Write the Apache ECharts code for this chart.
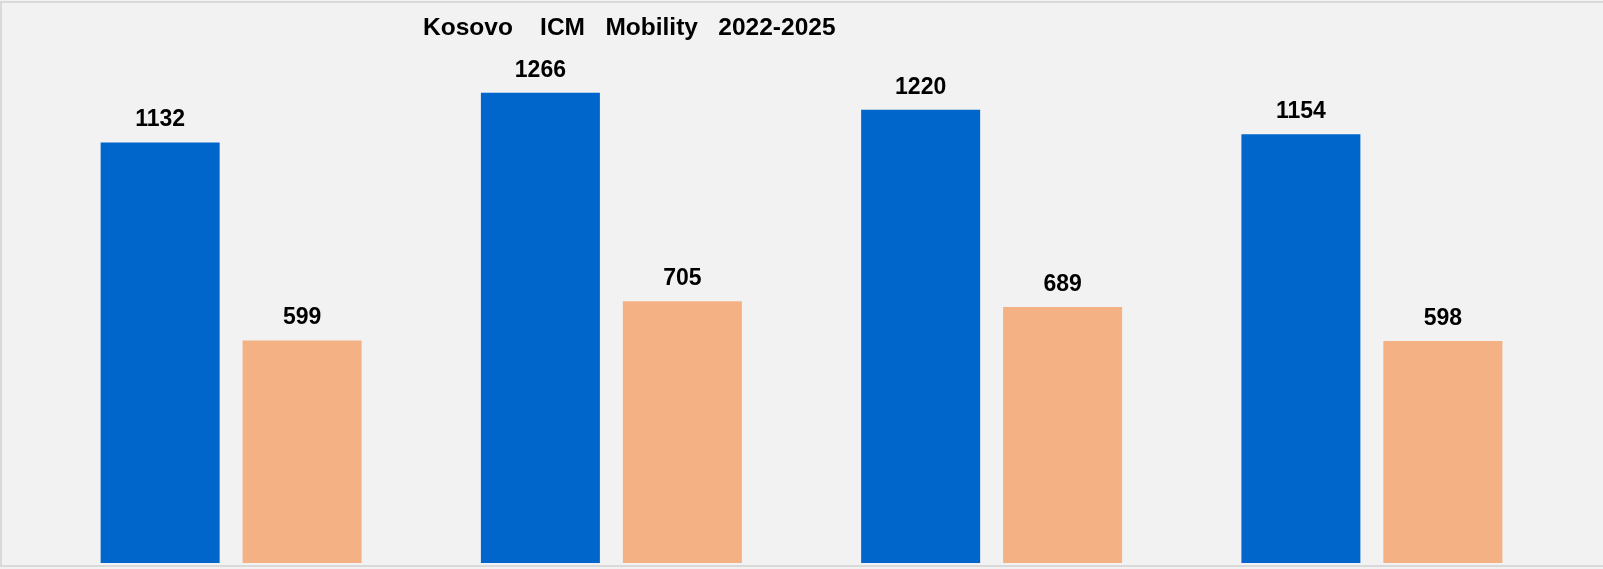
<!DOCTYPE html>
<html>
<head>
<meta charset="utf-8">
<script src="https://cdn.jsdelivr.net/npm/echarts@6/dist/echarts.min.js"></script>
<style>
html,body{margin:0;padding:0;background:#ffffff;}
#chart{width:1603px;height:569px;}
</style>
</head>
<body>
<div id="chart"></div>
<script>
const titleText = "Kosovo    ICM   Mobility   2022-2025";
const categories = ["2022", "2023", "2024", "2025"];
const seriesANames = "Series 1";
const seriesBNames = "Series 2";
const seriesA = [1132, 1266, 1220, 1154];
const seriesB = [599, 705, 689, 598];

const chart = echarts.init(document.getElementById('chart'), null, {renderer: 'canvas'});
const labelStyle = {
  show: true, position: 'top', distance: 11,
  color: '#000000', fontWeight: 'bold', fontSize: 23,
  fontFamily: 'Liberation Sans, Arial, sans-serif'
};
chart.setOption({
  backgroundColor: '#f2f2f2',
  animation: false,
  title: {
    text: titleText, left: 423, top: 16, padding: 0,
    textStyle: {fontSize: 24.5, fontWeight: 'bold', color: '#000000', fontFamily: 'Liberation Sans, Arial, sans-serif'}
  },
  graphic: [{
    type: 'rect', silent: true, z: 100,
    shape: {x: 1, y: 2, width: 1610, height: 564},
    style: {fill: 'none', stroke: '#d9d9d9', lineWidth: 2}
  }],
  grid: {left: 41, right: 41, top: 43, bottom: 6},
  xAxis: {
    type: 'category', data: categories,
    axisLine: {show: false}, axisTick: {show: false}, axisLabel: {show: false}
  },
  yAxis: {
    type: 'value', min: 0, max: 1400, interval: 200,
    show: false, splitLine: {show: false}
  },
  series: [
    {name: seriesANames, type: 'bar', data: seriesA, barWidth: 119, barGap: '19.3%',
     itemStyle: {color: '#0066cc'}, label: labelStyle},
    {name: seriesBNames, type: 'bar', data: seriesB, barWidth: 119,
     itemStyle: {color: '#f4b183'}, label: labelStyle}
  ]
});
</script>
</body>
</html>
